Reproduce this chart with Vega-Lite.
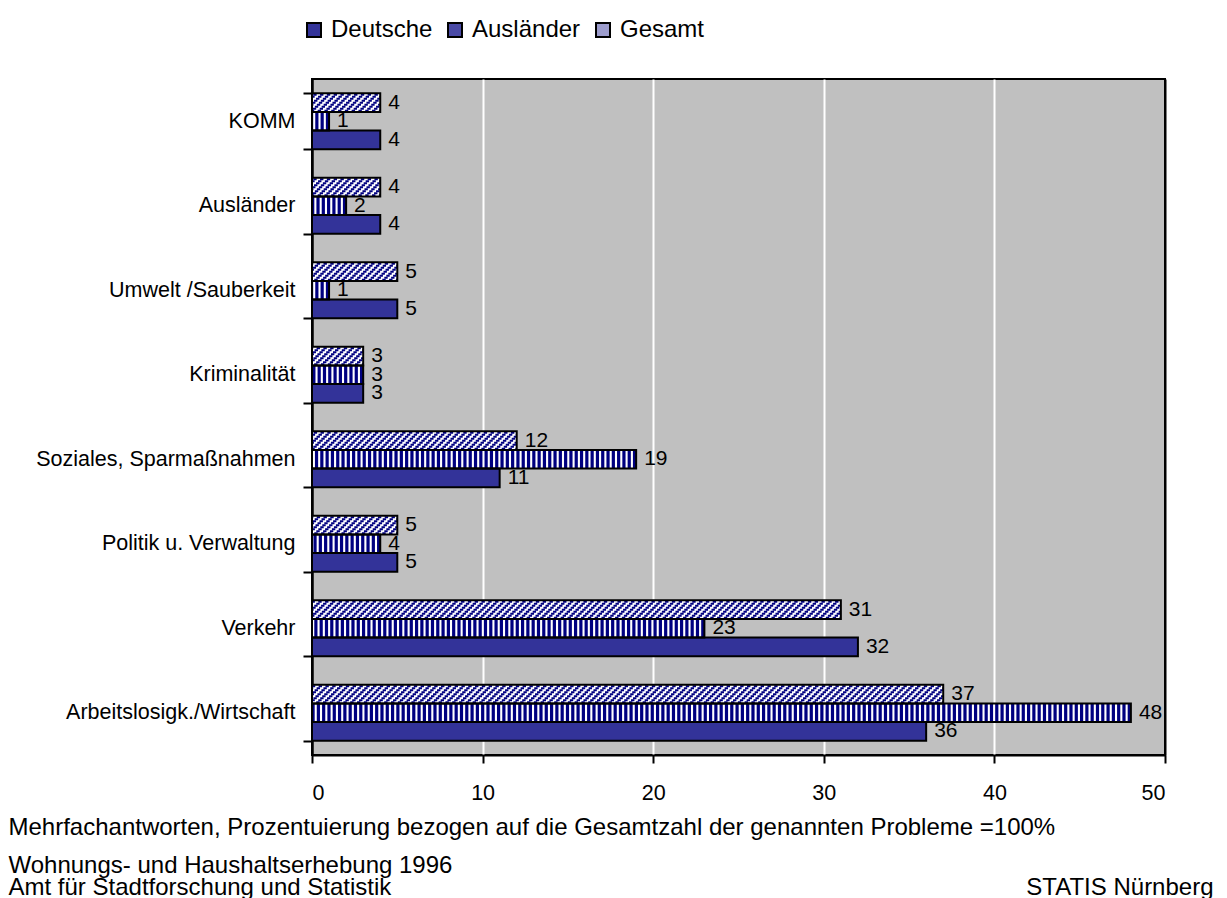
{
  "$schema": "https://vega.github.io/schema/vega-lite/v6.json",
  "width": 853,
  "height": 676,
  "autosize": {"type": "none"},
  "padding": {"left": 312, "top": 79, "right": 62, "bottom": 143},
  "background": "white",
  "config": {
    "font": "Liberation Sans",
    "view": {"fill": "#C0C0C0", "stroke": "black", "strokeWidth": 2}
  },
  "data": {
    "values": [
      {"cat": "KOMM", "series": "Deutsche", "value": 4},
      {"cat": "KOMM", "series": "Ausländer", "value": 1},
      {"cat": "KOMM", "series": "Gesamt", "value": 4},
      {"cat": "Ausländer", "series": "Deutsche", "value": 4},
      {"cat": "Ausländer", "series": "Ausländer", "value": 2},
      {"cat": "Ausländer", "series": "Gesamt", "value": 4},
      {"cat": "Umwelt /Sauberkeit", "series": "Deutsche", "value": 5},
      {"cat": "Umwelt /Sauberkeit", "series": "Ausländer", "value": 1},
      {"cat": "Umwelt /Sauberkeit", "series": "Gesamt", "value": 5},
      {"cat": "Kriminalität", "series": "Deutsche", "value": 3},
      {"cat": "Kriminalität", "series": "Ausländer", "value": 3},
      {"cat": "Kriminalität", "series": "Gesamt", "value": 3},
      {"cat": "Soziales, Sparmaßnahmen", "series": "Deutsche", "value": 11},
      {"cat": "Soziales, Sparmaßnahmen", "series": "Ausländer", "value": 19},
      {"cat": "Soziales, Sparmaßnahmen", "series": "Gesamt", "value": 12},
      {"cat": "Politik u. Verwaltung", "series": "Deutsche", "value": 5},
      {"cat": "Politik u. Verwaltung", "series": "Ausländer", "value": 4},
      {"cat": "Politik u. Verwaltung", "series": "Gesamt", "value": 5},
      {"cat": "Verkehr", "series": "Deutsche", "value": 32},
      {"cat": "Verkehr", "series": "Ausländer", "value": 23},
      {"cat": "Verkehr", "series": "Gesamt", "value": 31},
      {"cat": "Arbeitslosigk./Wirtschaft", "series": "Deutsche", "value": 36},
      {"cat": "Arbeitslosigk./Wirtschaft", "series": "Ausländer", "value": 48},
      {"cat": "Arbeitslosigk./Wirtschaft", "series": "Gesamt", "value": 37}
    ]
  },
  "resolve": {"axis": {"y": "independent"}},
  "layer": [
    {
      "encoding": {
        "y": {
          "field": "cat", "type": "nominal",
          "scale": {"domain": ["KOMM", "Ausländer", "Umwelt /Sauberkeit", "Kriminalität", "Soziales, Sparmaßnahmen", "Politik u. Verwaltung", "Verkehr", "Arbeitslosigk./Wirtschaft"], "paddingInner": 0.34, "paddingOuter": 0.17},
          "axis": {
            "orient": "left",
            "tickBand": "extent",
            "tickSize": 9, "tickWidth": 2, "tickColor": "black",
            "domainColor": "black", "domainWidth": 2,
            "labelFontSize": 21.5, "labelPadding": 8, "labelColor": "black", "labelLimit": 400,
            "grid": false,
            "title": ["Wohnungs- und Haushaltserhebung 1996", "Amt für Stadtforschung und Statistik"],
            "titleAngle": 0, "titleX": -304, "titleY": 786, "titleAlign": "left", "titleBaseline": "middle",
            "titleLineHeight": 22, "titleFontSize": 24, "titleFontWeight": "normal", "titleColor": "black"
          }
        }
      },
      "layer": [
        {
          "mark": {"type": "bar", "opacity": 1},
          "encoding": {
            "yOffset": {"field": "series", "type": "nominal", "scale": {"domain": ["Gesamt", "Ausländer", "Deutsche"], "paddingInner": 0, "paddingOuter": 0}},
            "x": {
              "field": "value", "type": "quantitative",
              "scale": {"domain": [0, 50], "nice": false},
              "axis": {
                "values": [0, 10, 20, 30, 40, 50],
                "grid": true,
                "gridColor": {"condition": {"test": "datum.value === 0 || datum.value === 50", "value": "black"}, "value": "white"},
                "gridWidth": 2,
                "domainColor": "black", "domainWidth": 2,
                "tickColor": "black", "tickWidth": 2, "tickSize": 8,
                "labelFontSize": 21.5, "labelPadding": 19, "labelColor": "black",
                "title": "Mehrfachantworten, Prozentuierung bezogen auf die Gesamtzahl der genannten Probleme =100%",
                "titleX": -304, "titleY": 72, "titleAlign": "left", "titleBaseline": "middle",
                "titleFontSize": 24, "titleFontWeight": "normal", "titleColor": "black"
              }
            },
            "color": {
              "field": "series", "type": "nominal",
              "scale": {"domain": ["Deutsche", "Ausländer", "Gesamt"], "range": ["#333399", "#4A4AA6", "#9C9CCC"]},
              "legend": {
                "orient": "none", "legendX": -10, "legendY": -61,
                "direction": "horizontal", "title": null,
                "symbolType": "square", "symbolSize": 196,
                "symbolStrokeColor": "black", "symbolStrokeWidth": 2,
                "labelFontSize": 24, "labelOffset": 5, "labelColor": "black",
                "columnPadding": 10
              }
            }
          }
        },
        {
          "transform": [{"filter": "datum.series !== 'Deutsche'"}],
          "mark": {"type": "bar", "fill": "#FFFFFF", "opacity": 1},
          "encoding": {
            "yOffset": {"field": "series", "type": "nominal", "scale": {"domain": ["Gesamt", "Ausländer", "Deutsche"], "paddingInner": 0, "paddingOuter": 0}},
            "x": {"field": "value", "type": "quantitative"}
          }
        },
        {
          "transform": [{"filter": "datum.series === 'Ausländer'"}],
          "mark": {"type": "rule", "stroke": "#000080", "strokeWidth": 18, "strokeDash": [3.2, 2.1], "strokeCap": "butt"},
          "encoding": {
            "yOffset": {"field": "series", "type": "nominal", "scale": {"domain": ["Gesamt", "Ausländer", "Deutsche"], "paddingInner": 0, "paddingOuter": 0}},
            "x": {"field": "value", "type": "quantitative"}, "x2": {"datum": 0}
          }
        },
        {
          "transform": [{"filter": "datum.series === 'Gesamt'"}],
          "mark": {"type": "rule", "stroke": "#000080", "strokeWidth": 2, "strokeDash": [3.4, 3.4], "strokeDashOffset": 18, "yOffset": -8, "strokeCap": "butt"},
          "encoding": {"y": {"field": "cat", "type": "nominal", "bandPosition": 0.1667}, "x": {"field": "value", "type": "quantitative"}, "x2": {"datum": 0}}
        },
        {
          "transform": [{"filter": "datum.series === 'Gesamt'"}],
          "mark": {"type": "rule", "stroke": "#000080", "strokeWidth": 2, "strokeDash": [3.4, 3.4], "strokeDashOffset": 16, "yOffset": -6, "strokeCap": "butt"},
          "encoding": {"y": {"field": "cat", "type": "nominal", "bandPosition": 0.1667}, "x": {"field": "value", "type": "quantitative"}, "x2": {"datum": 0}}
        },
        {
          "transform": [{"filter": "datum.series === 'Gesamt'"}],
          "mark": {"type": "rule", "stroke": "#000080", "strokeWidth": 2, "strokeDash": [3.4, 3.4], "strokeDashOffset": 14, "yOffset": -4, "strokeCap": "butt"},
          "encoding": {"y": {"field": "cat", "type": "nominal", "bandPosition": 0.1667}, "x": {"field": "value", "type": "quantitative"}, "x2": {"datum": 0}}
        },
        {
          "transform": [{"filter": "datum.series === 'Gesamt'"}],
          "mark": {"type": "rule", "stroke": "#000080", "strokeWidth": 2, "strokeDash": [3.4, 3.4], "strokeDashOffset": 12, "yOffset": -2, "strokeCap": "butt"},
          "encoding": {"y": {"field": "cat", "type": "nominal", "bandPosition": 0.1667}, "x": {"field": "value", "type": "quantitative"}, "x2": {"datum": 0}}
        },
        {
          "transform": [{"filter": "datum.series === 'Gesamt'"}],
          "mark": {"type": "rule", "stroke": "#000080", "strokeWidth": 2, "strokeDash": [3.4, 3.4], "strokeDashOffset": 10, "strokeCap": "butt"},
          "encoding": {"y": {"field": "cat", "type": "nominal", "bandPosition": 0.1667}, "x": {"field": "value", "type": "quantitative"}, "x2": {"datum": 0}}
        },
        {
          "transform": [{"filter": "datum.series === 'Gesamt'"}],
          "mark": {"type": "rule", "stroke": "#000080", "strokeWidth": 2, "strokeDash": [3.4, 3.4], "strokeDashOffset": 8, "yOffset": 2, "strokeCap": "butt"},
          "encoding": {"y": {"field": "cat", "type": "nominal", "bandPosition": 0.1667}, "x": {"field": "value", "type": "quantitative"}, "x2": {"datum": 0}}
        },
        {
          "transform": [{"filter": "datum.series === 'Gesamt'"}],
          "mark": {"type": "rule", "stroke": "#000080", "strokeWidth": 2, "strokeDash": [3.4, 3.4], "strokeDashOffset": 6, "yOffset": 4, "strokeCap": "butt"},
          "encoding": {"y": {"field": "cat", "type": "nominal", "bandPosition": 0.1667}, "x": {"field": "value", "type": "quantitative"}, "x2": {"datum": 0}}
        },
        {
          "transform": [{"filter": "datum.series === 'Gesamt'"}],
          "mark": {"type": "rule", "stroke": "#000080", "strokeWidth": 2, "strokeDash": [3.4, 3.4], "strokeDashOffset": 4, "yOffset": 6, "strokeCap": "butt"},
          "encoding": {"y": {"field": "cat", "type": "nominal", "bandPosition": 0.1667}, "x": {"field": "value", "type": "quantitative"}, "x2": {"datum": 0}}
        },
        {
          "transform": [{"filter": "datum.series === 'Gesamt'"}],
          "mark": {"type": "rule", "stroke": "#000080", "strokeWidth": 2, "strokeDash": [3.4, 3.4], "strokeDashOffset": 2, "yOffset": 8, "strokeCap": "butt"},
          "encoding": {"y": {"field": "cat", "type": "nominal", "bandPosition": 0.1667}, "x": {"field": "value", "type": "quantitative"}, "x2": {"datum": 0}}
        },
        {
          "mark": {"type": "bar", "filled": false, "stroke": "black", "strokeWidth": 2},
          "encoding": {
            "yOffset": {"field": "series", "type": "nominal", "scale": {"domain": ["Gesamt", "Ausländer", "Deutsche"], "paddingInner": 0, "paddingOuter": 0}},
            "x": {"field": "value", "type": "quantitative"}
          }
        }
      ]
    },
    {
      "encoding": {
        "y": {
          "field": "cat", "type": "nominal",
          "scale": {"domain": ["KOMM", "Ausländer", "Umwelt /Sauberkeit", "Kriminalität", "Soziales, Sparmaßnahmen", "Politik u. Verwaltung", "Verkehr", "Arbeitslosigk./Wirtschaft"], "paddingInner": 0.34, "paddingOuter": 0.17},
          "axis": {
            "orient": "right",
            "labels": false, "ticks": false, "domain": false, "grid": false,
            "title": "STATIS Nürnberg",
            "titleAngle": 0, "titleX": 48, "titleY": 808, "titleAlign": "right", "titleBaseline": "middle",
            "titleFontSize": 24, "titleFontWeight": "normal", "titleColor": "black"
          }
        },
        "yOffset": {"field": "series", "type": "nominal", "scale": {"domain": ["Gesamt", "Ausländer", "Deutsche"], "paddingInner": 0, "paddingOuter": 0}}
      },
      "layer": [
        {
          "mark": {"type": "text", "align": "left", "baseline": "middle", "dx": 8, "fontSize": 21, "color": "black"},
          "encoding": {
            "x": {"field": "value", "type": "quantitative"},
            "text": {"field": "value", "type": "quantitative"}
          }
        }
      ]
    }
  ]
}
